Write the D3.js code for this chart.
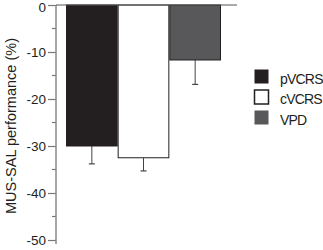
<!DOCTYPE html>
<html>
<head>
<meta charset="utf-8">
<script src="https://cdnjs.cloudflare.com/ajax/libs/d3/7.8.5/d3.min.js"></script>
<style>
  body { margin: 0; background: #fff; }
  text { font-family: "Liberation Sans", Arial, sans-serif; fill: #231f20; }
</style>
</head>
<body>
<div id="chart"></div>
<script>
// data
var groups = ["pVCRS", "cVCRS", "VPD"];
var means = [-30, -32.5, -11.7];
var errs = [3.8, 2.8, 5.2];
var colors = ["#231f20", "#ffffff", "#58585a"];
var yTicks = [0, -10, -20, -30, -40, -50];

var svgWidth = 323, svgHeight = 250;
var svg = d3.select("#chart").append("svg")
    .attr("width", svgWidth)
    .attr("height", svgHeight);

// scales
var x = d3.scaleBand().domain(groups).range([66, 221]).padding(0);
var y = d3.scaleLinear().domain([0, -50]).range([5, 240]);

// y axis
var leftAxis = d3.axisLeft(y).tickValues(yTicks).tickSize(8).tickPadding(2)
    .tickFormat(d => String(d));
var axisG = svg.append("g").attr("transform", "translate(56,0)").call(leftAxis);
axisG.select(".domain").remove();
axisG.selectAll(".tick line").attr("stroke", "#777").attr("stroke-width", 1.2);
axisG.selectAll(".tick text")
    .style("font-size", "13.5px")
    .attr("dy", d => d == 0 ? "0.5em" : "0.36em")
    .attr("fill", "#231f20");

// minor ticks
svg.append("g").selectAll("line")
    .data(d3.range(-5, -50, -10))
    .enter().append("line")
    .attr("x1", 52).attr("x2", 56)
    .attr("y1", d => y(d)).attr("y2", d => y(d))
    .attr("stroke", "#777").attr("stroke-width", 1.2);

svg.append("line")
    .attr("x1", 56).attr("x2", 56)
    .attr("y1", y(0)).attr("y2", y(-50) + 4)
    .attr("stroke", "#888").attr("stroke-width", 1.5);

// error bars
var eb = svg.append("g").selectAll("g").data(groups).enter().append("g");
eb.append("line")
    .attr("x1", d => x(d) + x.bandwidth() / 2)
    .attr("x2", d => x(d) + x.bandwidth() / 2)
    .attr("y1", (d, i) => y(means[i]))
    .attr("y2", (d, i) => y(means[i] - errs[i]))
    .attr("stroke", "#444").attr("stroke-width", 1);
eb.append("line")
    .attr("x1", d => x(d) + x.bandwidth() / 2 - 3)
    .attr("x2", d => x(d) + x.bandwidth() / 2 + 3)
    .attr("y1", (d, i) => y(means[i] - errs[i]))
    .attr("y2", (d, i) => y(means[i] - errs[i]))
    .attr("stroke", "#444").attr("stroke-width", 1.2);

// bars
svg.append("g").selectAll("rect")
    .data(groups).enter().append("rect")
    .attr("x", d => x(d) + 0.5)
    .attr("width", x.bandwidth() - 1)
    .attr("y", y(0))
    .attr("height", (d, i) => y(means[i]) - y(0))
    .attr("fill", (d, i) => colors[i])
    .attr("stroke", "#231f20")
    .attr("stroke-width", 1);

// zero line
svg.append("line")
    .attr("x1", 56).attr("x2", 237)
    .attr("y1", y(0)).attr("y2", y(0))
    .attr("stroke", "#555").attr("stroke-width", 1);

// y label
svg.append("text")
    .attr("transform", "translate(16,126) rotate(-90)")
    .attr("text-anchor", "middle")
    .style("font-size", "14.5px")
    .text("MUS-SAL performance (%)");

// legend
var leg = svg.append("g").selectAll("g").data(groups).enter().append("g")
    .attr("transform", (d, i) => "translate(254," + (69 + i * 20.5) + ")");
leg.append("rect")
    .attr("x", 0.5).attr("y", 0.5)
    .attr("width", 14).attr("height", 14)
    .attr("fill", (d, i) => colors[i])
    .attr("stroke", (d, i) => i == 1 ? "#231f20" : "none")
    .attr("stroke-width", 1.5);
leg.append("text")
    .attr("x", 26).attr("y", 14.5)
    .style("font-size", "14px")
    .style("letter-spacing", "-0.8px")
    .text(d => d);
</script>
</body>
</html>
